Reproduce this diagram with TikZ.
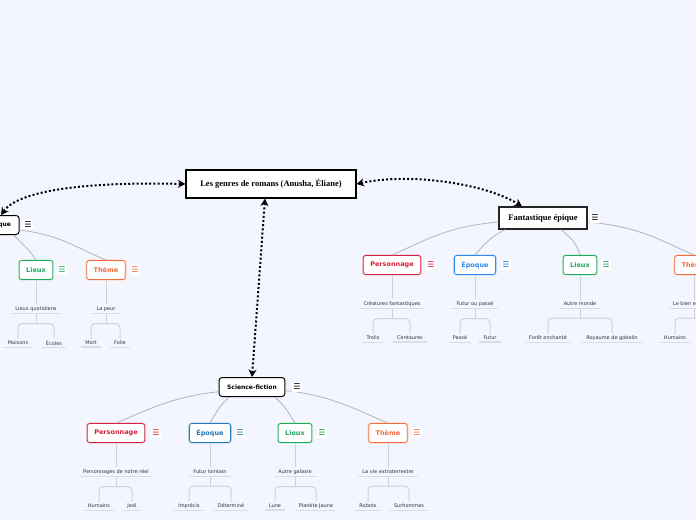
\documentclass[tikz,border=0pt]{standalone}
\usepackage{fontspec}
\setmainfont{Liberation Serif}
\setsansfont{DejaVu Sans}
\newfontfamily\iconfont{DejaVu Sans}
\usetikzlibrary{positioning,arrows.meta}
\usepackage{xcolor}
\definecolor{bgblue}{RGB}{243,246,254}
\definecolor{persred}{RGB}{212,33,63}
\definecolor{epoblue}{RGB}{45,140,235}
\definecolor{epoteal}{RGB}{30,122,185}
\definecolor{lieugreen}{RGB}{30,170,90}
\definecolor{themeorange}{RGB}{242,107,58}
\definecolor{branchgray}{RGB}{180,180,186}
\definecolor{treegray}{RGB}{205,210,220}
\definecolor{linegray}{RGB}{215,220,230}
\definecolor{leaftext}{RGB}{50,50,56}

\begin{document}
\begin{tikzpicture}[x=1pt,y=-1pt,>=Stealth]
\tikzset{
  rootbox/.style={draw=black,line width=1.2pt,fill=white,font=\rmfamily\bfseries\fontsize{8.5}{10}\selectfont,minimum width=170pt,minimum height=28pt},
  epicbox/.style={draw=black!85,line width=1.2pt,fill=white,font=\rmfamily\bfseries\fontsize{8.5}{10}\selectfont,minimum width=88pt,minimum height=22pt},
  mainbox/.style={draw=black,line width=1pt,fill=white,rounded corners=3pt,font=\sffamily\bfseries\fontsize{6}{7}\selectfont,inner xsep=8pt,minimum height=19pt},
  sub/.style={draw=#1,text=#1,line width=0.8pt,fill=white,rounded corners=2.5pt,font=\sffamily\bfseries\fontsize{6.5}{8}\selectfont,inner xsep=7pt,minimum height=19pt,preaction={draw=#1!25,line width=2.4pt}},
  menu/.style={fill=white,text=#1,font=\iconfont\fontsize{8}{8}\selectfont,inner sep=1pt,minimum size=10pt},
  leaf/.style={text=leaftext,font=\sffamily\fontsize{5}{6}\selectfont,inner xsep=4pt,inner ysep=2pt,append after command={(\tikzlastnode.south west) edge[uline] (\tikzlastnode.south east)}},
  uline/.style={draw=linegray,line width=1.2pt},
  branch/.style={draw=branchgray,line width=0.8pt},
  tree/.style={draw=treegray,line width=1pt,rounded corners=4pt},
  link/.style={{Stealth[length=7.5pt,width=8pt]}-{Stealth[length=7.5pt,width=8pt]},line width=2pt,dash pattern=on 2pt off 2.2pt}
}
\useasboundingbox (0,0) rectangle (696,520);
\clip (0,0) rectangle (696,520);
\fill[bgblue] (0,0) rectangle (696,520);

% root and the three genres
\node[rootbox] (root) at (271,184) {Les genres de romans (Anusha, Éliane)};
\node[mainbox] (fan) at (-9,225) {Fantastique};
\node[epicbox] (fe) at (543,218) {Fantastique épique};
\node[mainbox] (sf) at (252,387) {Science-fiction};

\draw[link] ([xshift=10pt]fan.north) .. controls +(20,-28) and +(-80,-2) .. (root.west);
\draw[link] ([xshift=-6pt]root.south) -- (sf.north);
\draw[link] (root.east) .. controls +(55,-12) and +(-35,-22) .. ([xshift=-21pt]fe.north);

% Fantastique
\node[sub=lieugreen] (fanlieux) at (36,270) {Lieux};
\node[sub=themeorange] (fantheme) at (106,270) {Thème};
\node[leaf] (fanlieuxa) at (36,309) {Lieux quotidiens};
\node[leaf] (fanlieux1) at (18,343) {Maisons};
\node[leaf] (fanlieux2) at (54,343) {Écoles};
\node[leaf] (fanthemea) at (106,309) {La peur};
\node[leaf] (fantheme1) at (91,343) {Mort};
\node[leaf] (fantheme2) at (120,343) {Folie};
\draw[branch] (fan.-24) .. controls +(8,8) and +(-6,-10) .. (fanlieux.north);
\draw[branch] (fan.-10) .. controls +(40,5) and +(-35,-15) .. (fantheme.north);
\foreach \t in {fanlieux,fantheme}{
  \draw[tree] (\t.south) -- (\t a.north);
  \draw[tree] (\t a.south) -- ([yshift=-10pt]\t a.south);
  \draw[tree] (\t 1.north) |- ([yshift=-10pt]\t a.south) -| (\t 2.north);
}

% Fantastique epique
\node[sub=persred] (fepers) at (392,265) {Personnage};
\node[sub=epoblue] (feepo) at (475,265) {Époque};
\node[sub=lieugreen] (felieux) at (580,265) {Lieux};
\node[sub=themeorange] (fetheme) at (694,265) {Thème};
\node[leaf] (fepersa) at (392,304) {Créatures fantastiques};
\node[leaf] (fepers1) at (373,338) {Trolls};
\node[leaf] (fepers2) at (410,338) {Centaures};
\node[leaf] (feepoa) at (475,304) {Futur ou passé};
\node[leaf] (feepo1) at (460,338) {Passé};
\node[leaf] (feepo2) at (490,338) {Futur};
\node[leaf] (felieuxa) at (580,304) {Autre monde};
\node[leaf] (felieux1) at (548,338) {Forêt enchanté};
\node[leaf] (felieux2) at (612,338) {Royaume de gobelin};
\node[leaf] (fethemea) at (694,304) {Le bien et le mal};
\node[leaf] (fetheme1) at (675,338) {Humains};
\coordinate (fetheme2) at (716,334);
\draw[branch] (fe.185) .. controls +(-50,5) and +(40,-18) .. (fepers.north);
\draw[branch] (fe.197) .. controls +(-15,8) and +(10,-12) .. (feepo.north);
\draw[branch] (fe.-33) .. controls +(10,8) and +(-3,-12) .. (felieux.north);
\draw[branch] (fe.-5) .. controls +(50,5) and +(-40,-18) .. (fetheme.north);
\foreach \t in {fepers,feepo,felieux,fetheme}{
  \draw[tree] (\t.south) -- (\t a.north);
  \draw[tree] (\t a.south) -- ([yshift=-10pt]\t a.south);
}
\foreach \t in {fepers,feepo,felieux}
  \draw[tree] (\t 1.north) |- ([yshift=-10pt]\t a.south) -| (\t 2.north);
\draw[tree] (fetheme1.north) |- ([yshift=-10pt]fethemea.south) -| (fetheme2);

% Science-fiction
\node[sub=persred] (sfpers) at (116,433) {Personnage};
\node[sub=epoteal] (sfepo) at (210,433) {Époque};
\node[sub=lieugreen] (sflieux) at (295,433) {Lieux};
\node[sub=themeorange] (sftheme) at (388,433) {Thème};
\node[leaf] (sfpersa) at (116,472) {Personnages de notre réel};
\node[leaf] (sfpers1) at (99,506) {Humains};
\node[leaf] (sfpers2) at (132,506) {Jedi};
\node[leaf] (sfepoa) at (210,472) {Futur lointain};
\node[leaf] (sfepo1) at (189,506) {Imprécis};
\node[leaf] (sfepo2) at (231,506) {Déterminé};
\node[leaf] (sflieuxa) at (295,472) {Autre galaxie};
\node[leaf] (sflieux1) at (275,506) {Lune};
\node[leaf] (sflieux2) at (316,506) {Planète Jaune};
\node[leaf] (sfthemea) at (388,472) {La vie extraterrestre};
\node[leaf] (sftheme1) at (368,506) {Robots};
\node[leaf] (sftheme2) at (409,506) {Surhommes};
\draw[branch] (sf.188) .. controls +(-45,5) and +(35,-15) .. (sfpers.north);
\draw[branch] (sf.204) .. controls +(-10,8) and +(6,-10) .. (sfepo.north);
\draw[branch] (sf.-24) .. controls +(10,8) and +(-6,-10) .. (sflieux.north);
\draw[branch] (sf.-6) .. controls +(45,5) and +(-35,-15) .. (sftheme.north);
\foreach \t in {sfpers,sfepo,sflieux,sftheme}{
  \draw[tree] (\t.south) -- (\t a.north);
  \draw[tree] (\t a.south) -- ([yshift=-10pt]\t a.south);
  \draw[tree] (\t 1.north) |- ([yshift=-10pt]\t a.south) -| (\t 2.north);
}

% menu icons
\node[menu=black] (fanmenu) at (28,225) {☰};
\node[menu=black] (femenu) at (595,218) {☰};
\node[menu=black] (sfmenu) at (297,387) {☰};
\node[menu=lieugreen] (fanlieuxmenu) at (62,270) {☰};
\node[menu=themeorange] (fanthememenu) at (135,270) {☰};
\node[menu=persred] (fepersmenu) at (431,265) {☰};
\node[menu=epoblue] (feepomenu) at (506,265) {☰};
\node[menu=lieugreen] (felieuxmenu) at (606,265) {☰};
\node[menu=persred] (sfpersmenu) at (156,433) {☰};
\node[menu=epoteal] (sfepomenu) at (240,433) {☰};
\node[menu=lieugreen] (sflieuxmenu) at (322,433) {☰};
\node[menu=themeorange] (sfthememenu) at (417,433) {☰};
\end{tikzpicture}
\end{document}
